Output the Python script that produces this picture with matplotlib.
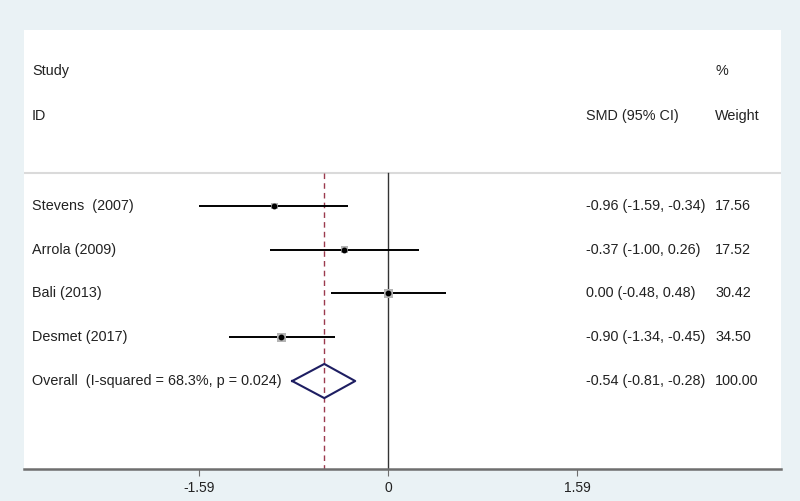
import matplotlib
matplotlib.use('Agg')
import matplotlib.pyplot as plt
import numpy as np

plt.rcParams['font.family'] = ['Liberation Sans', 'DejaVu Sans']

# data
studies = ['Stevens  (2007)', 'Arrola (2009)', 'Bali (2013)', 'Desmet (2017)']
smd = [-0.96, -0.37, 0.00, -0.90]
ci_low = [-1.59, -1.00, -0.48, -1.34]
ci_high = [-0.34, 0.26, 0.48, -0.45]
weights = [17.56, 17.52, 30.42, 34.50]

overall_label = 'Overall  (I-squared = 68.3%, p = 0.024)'
overall_smd = -0.54
overall_low = -0.81
overall_high = -0.28

xticks = [-1.59, 0, 1.59]
xtick_labels = ['-1.59', '0', '1.59']

bg = '#EAF2F5'
txt_col = '#222222'

fig = plt.figure(figsize=(8, 5.01), dpi=100, facecolor=bg)
ax = fig.add_axes([24 / 800, 32 / 501, 757 / 800, 439 / 501])
ax.set_facecolor('white')

ax.set_xlim(-3.066, 3.302)
ax.set_ylim(6.01, -4.02)

rows = np.arange(len(studies))
overall_row = len(studies)
top_line = -0.75

# header separator
ax.axhline(top_line, color='#DADADA', lw=1.5, zorder=1)

# null line and overall line
ax.plot([0, 0], [top_line, 6.01], color='#333333', lw=1.0, zorder=2)
ax.plot([overall_smd, overall_smd], [top_line, 6.01], color='#9B3A4E',
        lw=1.0, ls=(0, (4, 3)), zorder=2)

# study CIs, weight boxes, point estimates
ax.hlines(rows, ci_low, ci_high, color='black', lw=1.4, zorder=3)
ax.scatter(smd, rows, marker='s', s=np.array(weights) * 1.25,
           color='#B4B4B4', edgecolors='none', zorder=4)
ax.plot(smd, rows, 'o', color='black', ms=3.2, zorder=5)

# overall diamond
dx = [overall_low, overall_smd, overall_high, overall_smd, overall_low]
dy = [overall_row, overall_row - 0.39, overall_row, overall_row + 0.39, overall_row]
ax.plot(dx, dy, color='#1E1E62', lw=1.5, zorder=6)

# text columns
tr = ax.get_yaxis_transform()
fs = 10.4
ax.text(0.0106, -3.09, 'Study', transform=tr, fontsize=fs, va='center', color=txt_col)
ax.text(0.0106, -2.06, 'ID', transform=tr, fontsize=fs, va='center', color=txt_col)
ax.text(0.742, -2.06, 'SMD (95% CI)', transform=tr, fontsize=fs, va='center', color=txt_col)
ax.text(0.913, -3.09, '%', transform=tr, fontsize=fs, va='center', color=txt_col)
ax.text(0.913, -2.06, 'Weight', transform=tr, fontsize=fs, va='center', color=txt_col)

for r, name, m, lo, hi, w in zip(rows, studies, smd, ci_low, ci_high, weights):
    ax.text(0.0106, r, name, transform=tr, fontsize=fs, va='center', color=txt_col)
    ax.text(0.742, r, f'{m:.2f} ({lo:.2f}, {hi:.2f})', transform=tr,
            fontsize=fs, va='center', color=txt_col)
    ax.text(0.913, r, f'{w:.2f}', transform=tr, fontsize=fs, va='center', color=txt_col)

ax.text(0.0106, overall_row, overall_label, transform=tr, fontsize=fs, va='center', color=txt_col)
ax.text(0.742, overall_row, f'{overall_smd:.2f} ({overall_low:.2f}, {overall_high:.2f})',
        transform=tr, fontsize=fs, va='center', color=txt_col)
ax.text(0.913, overall_row, f'{sum(weights):.2f}', transform=tr, fontsize=fs,
        va='center', color=txt_col)

# axes styling
for s in ['top', 'left', 'right']:
    ax.spines[s].set_visible(False)
ax.spines['bottom'].set_color('#6E6E6E')
ax.spines['bottom'].set_linewidth(1.8)
ax.set_yticks([])
ax.set_xticks(xticks)
ax.set_xticklabels(xtick_labels, fontsize=10, color=txt_col)
ax.tick_params(axis='x', length=5, width=0.8, color='#6E6E6E', pad=4)

plt.savefig('out.png', dpi=100, facecolor=bg)
